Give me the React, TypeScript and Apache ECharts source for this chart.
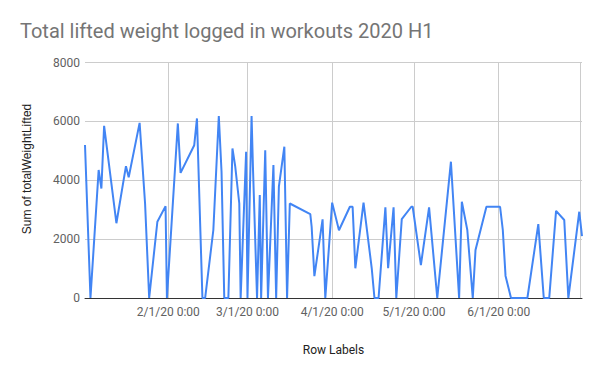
import React, { useEffect, useRef } from "react";
import * as echarts from "echarts";

const titleText = "Total lifted weight logged in workouts 2020 H1";
const yAxisName = "Sum of totalWeightLifted";
const xAxisName = "Row Labels";

const dates: string[] = [
  "2020-01-01 12:00", "2020-01-03 12:00", "2020-01-06 12:00", "2020-01-07 12:00", "2020-01-08 12:00",
  "2020-01-13 00:00", "2020-01-16 12:00", "2020-01-17 12:00", "2020-01-21 12:00", "2020-01-23 12:00",
  "2020-01-25 00:00", "2020-01-28 00:00", "2020-01-31 00:00", "2020-01-31 12:00", "2020-02-04 12:00",
  "2020-02-05 12:00", "2020-02-10 12:00", "2020-02-11 12:00", "2020-02-13 12:00", "2020-02-14 12:00",
  "2020-02-17 12:00", "2020-02-19 12:00", "2020-02-20 12:00", "2020-02-21 12:00", "2020-02-23 00:00",
  "2020-02-24 12:00", "2020-02-25 12:00", "2020-02-27 00:00", "2020-02-27 12:00", "2020-02-29 12:00",
  "2020-03-01 00:00", "2020-03-02 12:00", "2020-03-03 00:00", "2020-03-04 12:00", "2020-03-05 12:00",
  "2020-03-06 00:00", "2020-03-07 12:00", "2020-03-08 12:00", "2020-03-10 12:00", "2020-03-11 12:00",
  "2020-03-12 12:00", "2020-03-14 12:00", "2020-03-15 12:00", "2020-03-16 12:00", "2020-03-24 00:00",
  "2020-03-24 12:00", "2020-03-25 12:00", "2020-03-28 12:00", "2020-03-29 12:00", "2020-04-01 00:00",
  "2020-04-03 12:00", "2020-04-07 12:00", "2020-04-08 12:00", "2020-04-09 12:00", "2020-04-12 12:00",
  "2020-04-15 12:00", "2020-04-16 12:00", "2020-04-18 00:00", "2020-04-20 12:00", "2020-04-21 12:00",
  "2020-04-23 12:00", "2020-04-24 12:00", "2020-04-26 12:00", "2020-04-30 00:00", "2020-04-30 12:00",
  "2020-05-03 12:00", "2020-05-06 12:00", "2020-05-09 12:00", "2020-05-14 12:00", "2020-05-17 12:00",
  "2020-05-18 12:00", "2020-05-20 12:00", "2020-05-22 12:00", "2020-05-23 12:00", "2020-05-27 12:00",
  "2020-06-01 12:00", "2020-06-02 12:00", "2020-06-03 12:00", "2020-06-05 12:00", "2020-06-11 12:00",
  "2020-06-15 12:00", "2020-06-17 12:00", "2020-06-19 12:00", "2020-06-22 00:00", "2020-06-25 00:00",
  "2020-06-26 12:00", "2020-06-30 12:00", "2020-07-01 12:00",
];

const weights: number[] = [
  5200, 0, 4350, 3720, 5850,
  2540, 4480, 4100, 5950, 3210,
  0, 2590, 3120, 0, 5930,
  4250, 5190, 6100, 0, 0,
  2310, 6180, 4290, 0, 0,
  5080, 4480, 3210, 0, 4970,
  0, 6180, 4450, 0, 3500,
  0, 5020, 0, 4520, 0,
  3780, 5140, 0, 3210, 2850,
  2420, 740, 2670, 0, 3240,
  2300, 3100, 3100, 1010, 3240,
  1010, 0, 0, 3080, 1010,
  3080, 0, 2680, 3100, 3100,
  1120, 3080, 0, 4630, 0,
  3270, 2310, 0, 1630, 3100,
  3100, 2310, 750, 0, 0,
  2510, 0, 0, 2960, 2650,
  0, 2930, 2100,
];

const yTicks = { min: 0, max: 8000, interval: 2000 };
// months whose first-day label is shown under the axis
const labelledMonths = [2, 3, 4, 5, 6];

function fmtDate(v: number): string {
  const d = new Date(v);
  if (d.getDate() !== 1 || d.getHours() !== 0 || d.getMinutes() !== 0) return "";
  if (!labelledMonths.includes(d.getMonth() + 1)) return "";
  const yy = String(d.getFullYear()).slice(2);
  return `${d.getMonth() + 1}/${d.getDate()}/${yy} 0:00`;
}

export default function App() {
  const ref = useRef<HTMLDivElement>(null);
  useEffect(() => {
    if (!ref.current) return;
    const chart = echarts.init(ref.current, undefined, { renderer: "svg" });
    const seriesData = dates.map((d, i) => [d, weights[i]]);
    chart.setOption({
      animation: false,
      backgroundColor: "#ffffff",
      textStyle: { fontFamily: "Roboto" },
      title: {
        text: titleText,
        left: 15,
        top: 16,
        textStyle: { fontFamily: "Roboto", fontSize: 20, fontWeight: "normal", color: "#757575" },
      },
      grid: { left: 85, right: 18, top: 62.5, bottom: 73, containLabel: false, outerBoundsMode: "none" },
      graphic: [
        {
          type: "text",
          x: 27,
          y: 169,
          rotation: Math.PI / 2,
          style: {
            text: yAxisName,
            fontFamily: "Liberation Sans",
            fontSize: 12,
            fill: "#222222",
            textAlign: "center",
            textVerticalAlign: "middle",
          },
        },
      ],
      xAxis: {
        type: "time",
        min: "dataMin",
        max: "dataMax",
        splitNumber: 6,
        name: xAxisName,
        nameLocation: "middle",
        nameGap: 46,
        nameTextStyle: { fontFamily: "Roboto", fontSize: 12, color: "#222222" },
        axisLine: { show: true, lineStyle: { color: "#333333", width: 1 } },
        axisTick: { show: false },
        axisLabel: {
          formatter: (v: number) => fmtDate(v),
          fontFamily: "Roboto",
          fontSize: 12,
          color: "#616161",
          margin: 8,
          hideOverlap: false,
        },
        splitLine: { show: true, showMinLine: false, showMaxLine: false, lineStyle: { color: "#cccccc", width: 1 } },
      },
      yAxis: {
        type: "value",
        min: yTicks.min,
        max: yTicks.max,
        interval: yTicks.interval,
        axisLine: { show: false },
        axisTick: { show: false },
        axisLabel: {
          formatter: (v: number) => String(v),
          fontFamily: "Roboto",
          fontSize: 12,
          color: "#616161",
          margin: 5,
        },
        splitLine: { show: true, lineStyle: { color: "#cccccc", width: 1 } },
      },
      series: [
        {
          type: "line",
          data: seriesData,
          showSymbol: false,
          symbol: "none",
          lineStyle: { color: "#4285f4", width: 2 },
          itemStyle: { color: "#4285f4" },
          z: 3,
        },
      ],
    });
    return () => chart.dispose();
  }, []);
  return <div ref={ref} style={{ width: 600, height: 371, position: "absolute", left: 0, top: 0 }} />;
}
